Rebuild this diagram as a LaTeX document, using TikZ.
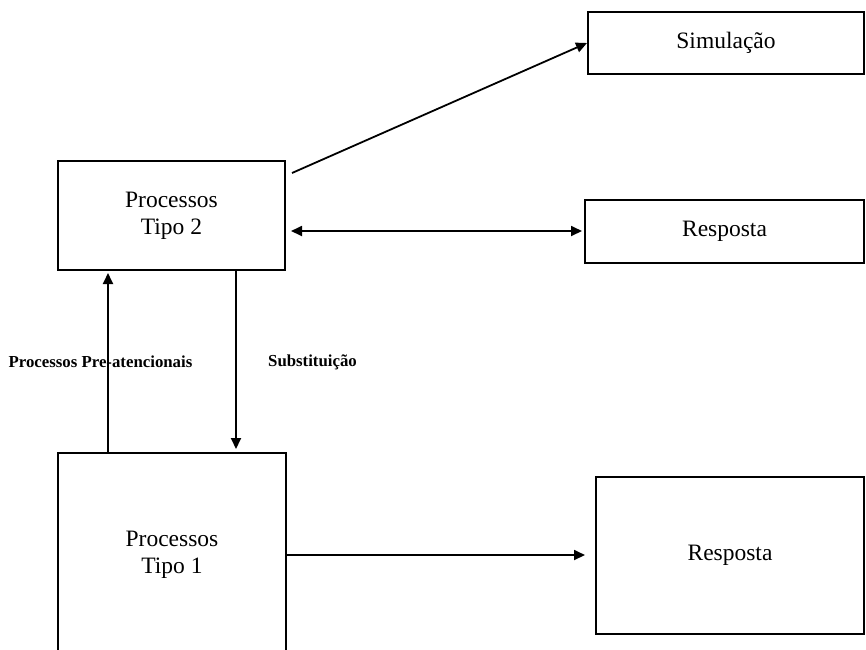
\documentclass[tikz,border=0pt]{standalone}
\usepackage{fontspec}
\setmainfont{Liberation Serif}
\usetikzlibrary{arrows.meta}

\begin{document}
\begin{tikzpicture}[x=1pt,y=-1pt,
  caixa/.style={draw,line width=2pt,align=center,inner sep=0pt,
    font=\fontsize{23.5}{27}\selectfont},
  seta/.style={line width=1.8pt,arrows={-Triangle[length=11pt,width=10pt]}},
  seta2/.style={line width=1.8pt,arrows={Triangle[length=11pt,width=10pt]-Triangle[length=11pt,width=10pt]}},
  rotulo/.style={font=\fontsize{16.8}{20}\selectfont\bfseries,inner sep=0pt}]
  \useasboundingbox (0,0) rectangle (866,649);
  \clip (0,0) rectangle (866,649);

  % Processos
  \node[caixa,minimum width=227pt,minimum height=109pt] (tipo2) at (171.5,215.5) {Processos\\Tipo 2};
  \node[caixa,minimum width=228pt,minimum height=204pt] (tipo1) at (172,555) {Processos\\Tipo 1};

  % Saidas
  \node[caixa,minimum width=276pt,minimum height=62pt] (sim) at (726,43) {Simulação};
  \node[caixa,minimum width=279pt,minimum height=63pt] (resp2) at (724.5,231) {Resposta};
  \node[caixa,minimum width=268pt,minimum height=157pt] (resp1) at (730,555) {Resposta};

  % Ligacoes
  \draw[seta] ([shift={(6,13)}]tipo2.north east) -- (sim.west);
  \draw[seta2] ([xshift=5pt]tipo2.east |- resp2.west) -- ([xshift=-2pt]resp2.west);
  \draw[seta] ([xshift=-64pt]tipo1.north) -- ([xshift=-64pt,yshift=-2pt]tipo1.north |- tipo2.south);
  \draw[seta] ([xshift=64.5pt]tipo2.south) -- ([xshift=64.5pt,yshift=3pt]tipo2.south |- tipo1.north);
  \draw[seta] (tipo1.east) -- ([xshift=-10pt]tipo1.east -| resp1.west);

  % Rotulos
  \node[rotulo] (pre) at (100.5,362) {Processos Pre-atencionais};
  \node[rotulo] (subst) at (312.5,362) {Substituição};

\end{tikzpicture}
\end{document}
